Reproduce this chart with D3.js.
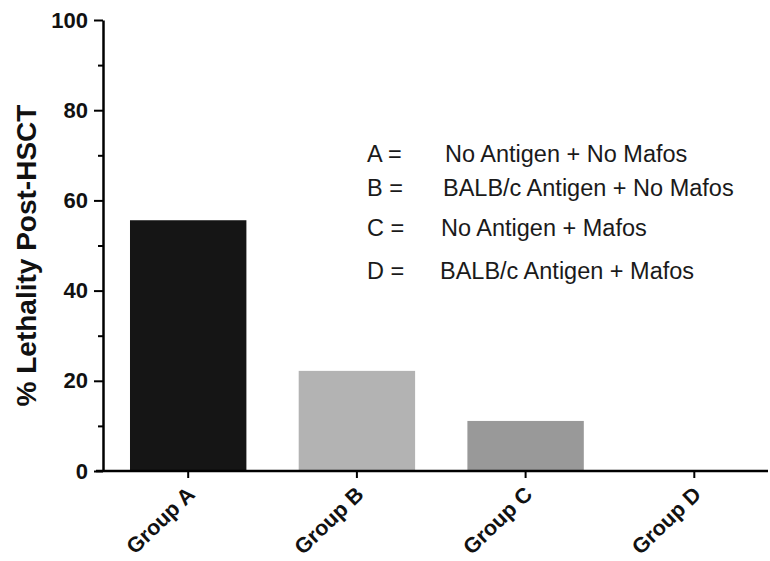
<!DOCTYPE html>
<html><head><meta charset="utf-8">
<script src="https://cdn.jsdelivr.net/npm/d3@7"></script>
<style>body{margin:0;background:#fff}</style>
</head><body>
<svg id="c" width="770" height="561"></svg>
<script>
const categories = ["Group A", "Group B", "Group C", "Group D"];
const values = [55.6, 22.2, 11.1, 0];
const barColors = ["#151515", "#b3b3b3", "#999999", "#888888"];
const yTicks = [0, 20, 40, 60, 80, 100];
const yMinorTicks = [10, 30, 50, 70, 90];
const legendKeys = ["A =", "B =", "C =", "D ="];
const legendTexts = ["No Antigen + No Mafos", "BALB/c Antigen + No Mafos", "No Antigen + Mafos", "BALB/c Antigen + Mafos"];

const svg = d3.select("#c");
const font = "Arial, 'Liberation Sans', sans-serif";
const x0 = 103, y0 = 471, yTop = 20;
const y = d3.scaleLinear().domain([0, 100]).range([y0, yTop]);
const x = d3.scaleBand().domain(categories).range([x0, 779.5]).paddingInner(0.31).paddingOuter(0.16);

// bars
svg.selectAll("rect.bar").data(values).enter().append("rect")
  .attr("x", (d, i) => x(categories[i]))
  .attr("y", d => y(d))
  .attr("width", x.bandwidth())
  .attr("height", d => y0 - y(d))
  .attr("fill", (d, i) => barColors[i]);

// y axis
const yAxis = svg.append("g").attr("transform", `translate(${x0},0)`)
  .call(d3.axisLeft(y).tickValues(yTicks).tickSize(9).tickPadding(6).tickSizeOuter(0));
yAxis.select(".domain").attr("stroke-width", 2.5);
yAxis.selectAll(".tick line").attr("stroke-width", 2);
yAxis.selectAll(".tick text").attr("font-family", font).attr("font-weight", "bold").attr("font-size", 22).attr("fill", "#111");
const yMinor = svg.append("g").attr("transform", `translate(${x0},0)`)
  .call(d3.axisLeft(y).tickValues(yMinorTicks).tickSize(5).tickFormat(""));
yMinor.select(".domain").remove();
yMinor.selectAll(".tick line").attr("stroke-width", 2);

// x axis
const xAxis = svg.append("g").attr("transform", `translate(0,${y0})`)
  .call(d3.axisBottom(x).tickSize(7).tickSizeOuter(0).tickFormat(""));
xAxis.select(".domain").attr("d", `M96,0H768`).attr("stroke-width", 2.5);
xAxis.selectAll(".tick line").attr("stroke-width", 2);

// x labels
svg.append("g").selectAll("text").data(categories).enter().append("text")
  .attr("transform", d => `translate(${x(d) + x.bandwidth() / 2 + 8},${y0 + 25}) rotate(-44)`)
  .attr("text-anchor", "end")
  .attr("font-family", font).attr("font-weight", "bold").attr("font-size", 21.5).attr("fill", "#111")
  .text(d => d);

// y title
svg.append("text")
  .attr("transform", `translate(36,${(y0 + yTop) / 2 + 10}) rotate(-90)`)
  .attr("text-anchor", "middle")
  .attr("font-family", font).attr("font-weight", "bold").attr("font-size", 28).attr("fill", "#111")
  .text("% Lethality Post-HSCT");

// legend
const legendY = [162, 196, 236, 279];
const legendTx = [445, 443, 441, 440];
const lg = svg.append("g");
legendKeys.forEach((k, i) => {
  lg.append("text").attr("x", 367).attr("y", legendY[i])
    .attr("font-family", font).attr("font-size", 23.5).attr("fill", "#1a1a1a").text(k);
  lg.append("text").attr("x", legendTx[i]).attr("y", legendY[i])
    .attr("font-family", font).attr("font-size", 23.5).attr("fill", "#1a1a1a").text(legendTexts[i]);
});
</script>
</body></html>
